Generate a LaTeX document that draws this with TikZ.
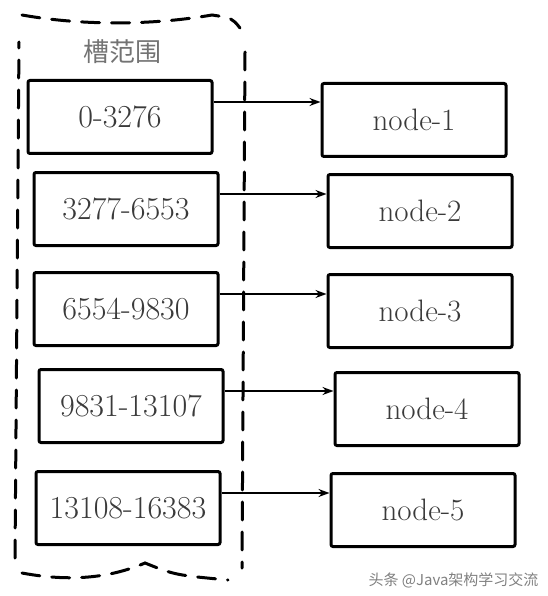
\documentclass[tikz,border=0pt]{standalone}
\usepackage{fontspec}
\usepackage{xcolor}
\usepackage{tikz}
\usetikzlibrary{arrows,arrows.meta,calc}
\newfontfamily\cjk{Noto Sans CJK SC}
\definecolor{inkgray}{HTML}{3A3A3A}

\begin{document}
\begin{tikzpicture}[x=1pt,y=-1pt,
        slotbox/.style={draw,line width=3pt,rounded corners=2pt,minimum width=184pt,minimum height=73pt,
            text=inkgray,font=\fontsize{32}{38}\selectfont,inner sep=0pt},
        nodebox/.style={slotbox,font=\fontsize{31}{36}\selectfont},
        link/.style={-{Stealth[length=11pt,width=8pt]},line width=1.4pt},
        container/.style={line width=3pt,dash pattern=on 18pt off 12pt,line cap=round}]
        \useasboundingbox (0,0) rectangle (547,596);
        % slot range frame
        \draw [container] (15,558) -- (19,42);
        \draw [container] (22,15) .. controls (90,27) and (160,24) .. (212,15) .. controls (232,18) .. (240,28);
        \draw [container] (245,52) -- (242,568);
        \draw [container] (22,573) .. controls (70,582) and (110,578) .. (145,563) .. controls (175,575) .. (228,580);
        \node [text=gray!90!black,font=\cjk\fontsize{26}{30}\selectfont] (title) at (122,52) {槽范围};
        % slot ranges
        \node [slotbox] (l1) at (120,117) {0-3276};
        \node [slotbox] (l2) at (126,209) {3277-6553};
        \node [slotbox] (l3) at (126,309) {6554-9830};
        \node [slotbox] (l4) at (131,406) {9831-13107};
        \node [slotbox] (l5) at (128,508) {13108-16383};
        % cluster nodes
        \node [nodebox] (r1) at (414,120) {node-1};
        \node [nodebox] (r2) at (420,211) {node-2};
        \node [nodebox] (r3) at (420,311) {node-3};
        \node [nodebox] (r4) at (427,409) {node-4};
        \node [nodebox] (r5) at (423,510) {node-5};
        \foreach \i in {1,...,5}{
            \draw [link] ([yshift=15pt]l\i.east) -- ([yshift=15pt]l\i.east -| r\i.west);
        }
        \node [text=gray,font=\cjk\fontsize{15}{18}\selectfont,anchor=east] (mark) at (542,580) {头条 @Java架构学习交流};
\end{tikzpicture}
\end{document}
